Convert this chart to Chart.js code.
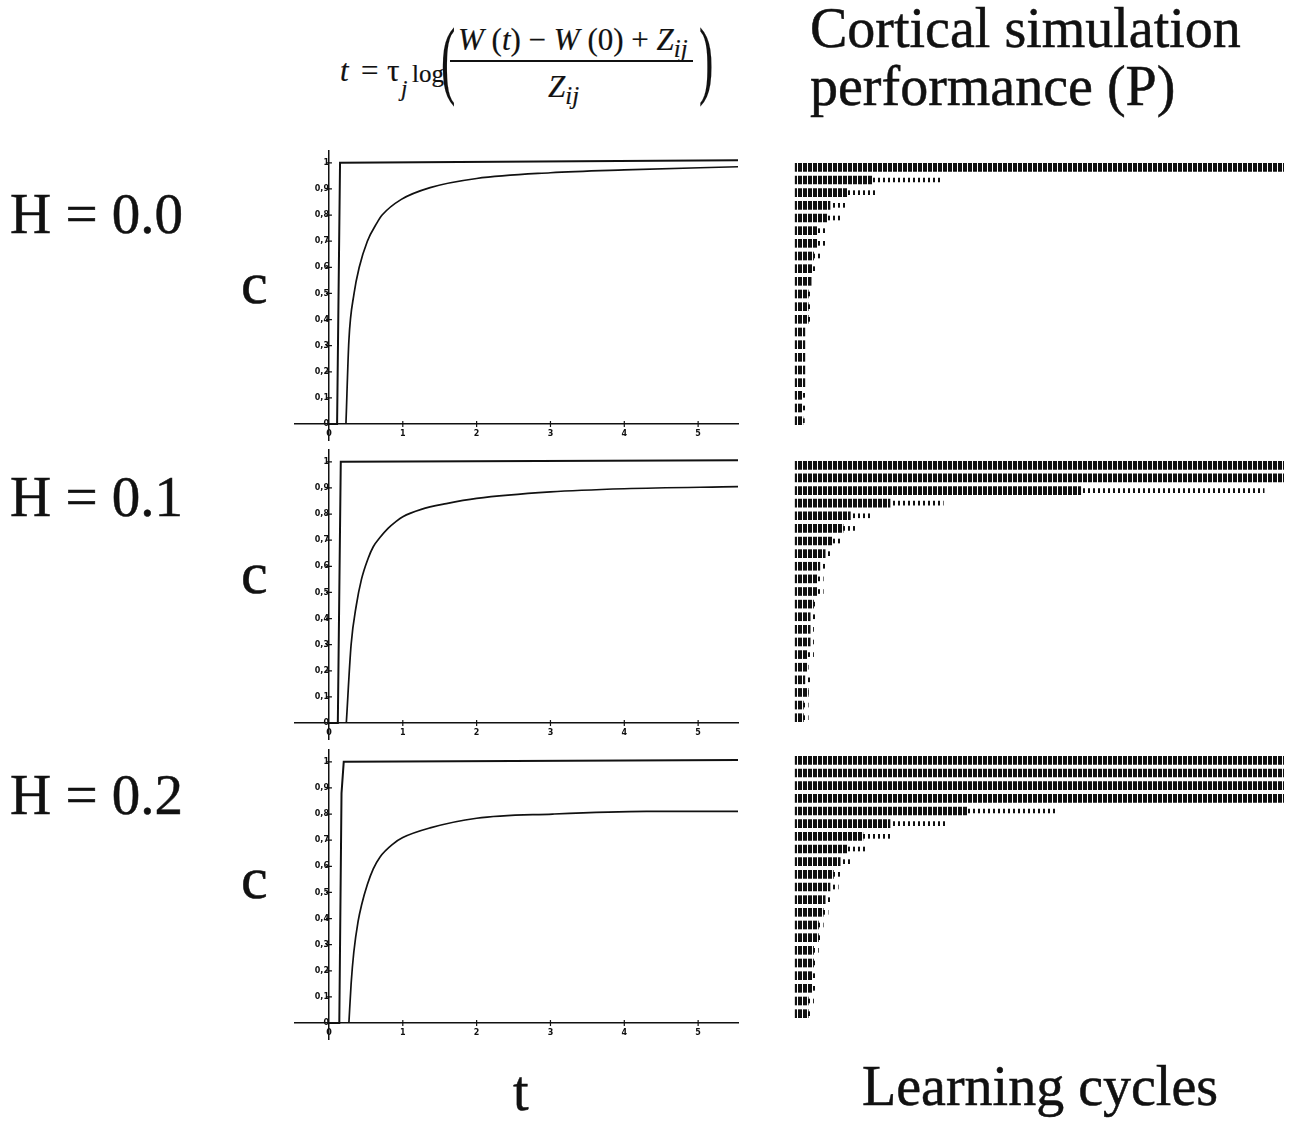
<!DOCTYPE html>
<html>
<head>
<meta charset="utf-8" />
<title>Cortical simulation performance</title>
<script src="https://cdn.jsdelivr.net/npm/chart.js@4.4.1/dist/chart.umd.min.js"></script>
<style>
  body { margin: 0; background: #fff; width: 1293px; height: 1121px; position: relative; overflow: hidden;
         font-family: "Liberation Serif", "Times New Roman", serif; color: #111; }
  .lbl { position: absolute; white-space: nowrap; line-height: 1; -webkit-text-stroke: 0.5px #111; }
  .big { font-size: 56px; }
  .eq { font-size: 31px; -webkit-text-stroke: 0.2px #111; }
  .eq sub { font-size: 0.8em; vertical-align: -0.3em; line-height: 0; }
  canvas { position: absolute; }
</style>
</head>
<body>
  <!-- formula -->
  <div class="lbl eq" style="left:340px; top:55px;"><i>t</i></div>
  <div class="lbl eq" style="left:361px; top:55px;">=</div>
  <div class="lbl eq" style="left:387px; top:55px;">τ</div>
  <div class="lbl eq" style="left:401px; top:77px; font-size:23px;"><i>j</i></div>
  <div class="lbl eq" style="left:412px; top:61px; font-size:25px;">log</div>
  <div class="lbl eq" style="left:441px; top:16px; font-size:86px; transform:scaleX(0.5); transform-origin:left top;">(</div>
  <div class="lbl eq" style="left:458px; top:24px;"><i>W</i> (<i>t</i>) − <i>W</i> (0) + <i>Z</i><sub><i>ij</i></sub></div>
  <div style="position:absolute; left:450px; top:60px; width:243px; height:1.5px; background:#111;"></div>
  <div class="lbl eq" style="left:548px; top:71px;"><i>Z</i><sub><i>ij</i></sub></div>
  <div class="lbl eq" style="left:699px; top:16px; font-size:86px; transform:scaleX(0.5); transform-origin:left top;">)</div>

  <div class="lbl big" style="left:810px; top:0px;">Cortical simulation</div>
  <div class="lbl big" style="left:810px; top:58px;">performance (P)</div>

  <div class="lbl" style="left:10px; top:185px; font-size:57px;">H = 0.0</div>
  <div class="lbl" style="left:10px; top:468px; font-size:57px;">H = 0.1</div>
  <div class="lbl" style="left:10px; top:766px; font-size:57px;">H = 0.2</div>
  <div class="lbl" style="left:241px; top:253px; font-size:60px;">c</div>
  <div class="lbl" style="left:241px; top:543px; font-size:60px;">c</div>
  <div class="lbl" style="left:241px; top:848px; font-size:60px;">c</div>
  <div class="lbl big" style="left:513px; top:1063px;">t</div>
  <div class="lbl big" style="left:862px; top:1058px;">Learning cycles</div>

  <canvas id="c0" width="455" height="320" style="left:289px; top:140px;"></canvas>
  <canvas id="c1" width="455" height="320" style="left:289px; top:439px;"></canvas>
  <canvas id="c2" width="455" height="320" style="left:289px; top:739px;"></canvas>
  <canvas id="p0" width="491" height="266" style="left:793px; top:161px;"></canvas>
  <canvas id="p1" width="491" height="265" style="left:793px; top:459px;"></canvas>
  <canvas id="p2" width="491" height="266" style="left:793px; top:754px;"></canvas>

<script>
// axis ticks of the c(t) plots
const tTicks = [0, 1, 2, 3, 4, 5];
const cTicks = [0, 0.1, 0.2, 0.3, 0.4, 0.5, 0.6, 0.7, 0.8, 0.9, 1];

// H = 0.0
const stepT_H0 = [0, 0.11, 0.15, 5.54];
const stepC_H0 = [0, 0, 1, 1.01];
const curveT_H0 = [0.23, 0.27, 0.34, 0.41, 0.52, 0.65, 0.72, 0.98, 1.37, 2.0, 3.0, 4.0, 5.54];
const curveC_H0 = [0, 0.32, 0.5, 0.6, 0.7, 0.77, 0.8, 0.86, 0.905, 0.94, 0.962, 0.973, 0.985];

// H = 0.1
const stepT_H1 = [0, 0.12, 0.16, 5.54];
const stepC_H1 = [0, 0, 1, 1.006];
const curveT_H1 = [0.235, 0.30, 0.37, 0.44, 0.53, 0.6, 0.69, 0.8, 0.91, 1.0, 1.25, 1.59, 2.0, 3.0, 4.0, 5.54];
const curveC_H1 = [0, 0.30, 0.45, 0.55, 0.63, 0.675, 0.71, 0.745, 0.772, 0.79, 0.818, 0.84, 0.86, 0.885, 0.897, 0.905];

// H = 0.2
const stepT_H2 = [0, 0.14, 0.17, 0.2, 5.54];
const stepC_H2 = [0, 0, 0.88, 1, 1.007];
const curveT_H2 = [0.27, 0.30, 0.336, 0.395, 0.44, 0.52, 0.6, 0.69, 0.87, 1.0, 1.37, 2.0, 3.03, 4.3, 5.54];
const curveC_H2 = [0, 0.15, 0.27, 0.39, 0.45, 0.53, 0.59, 0.635, 0.686, 0.71, 0.747, 0.784, 0.80, 0.81, 0.81];

// performance rows (top = P 1.0) and how far each row runs, in % of the cycle axis
const perfLevels = [1, 0.95, 0.9, 0.85, 0.8, 0.75, 0.7, 0.65, 0.6, 0.55, 0.5,
                    0.45, 0.4, 0.35, 0.3, 0.25, 0.2, 0.15, 0.1, 0.05, 0];
const rowStart = -1;
const denseH0 = [100, 15, 9.7, 6.2, 5.5, 3.5, 3.5, 2.8, 2.5, 2.3, 1.7, 1.7, 1.7, 1.0, 1.0, 1.0, 1.0, 1.0, 0.4, 0.4, 0.6];
const endH0   = [100, 29, 16, 9.3, 8.3, 5.2, 5.2, 4.1, 3.1, 2.6, 2.5, 2.5, 2.5, 1.4, 1.4, 1.4, 1.4, 1.4, 1.0, 1.0, 0.9];
const denseH1 = [100, 100, 58, 18.6, 10.4, 8.9, 6.6, 5.2, 4.1, 3.5, 3.5, 2.8, 2.1, 2.1, 2.1, 1.4, 1.4, 1.0, 1.7, 0.7, 0.7];
const endH1   = [100, 100, 95.9, 29.6, 14.5, 11.8, 8.7, 6.6, 5.6, 4.8, 4.8, 3.5, 3.5, 2.8, 2.8, 2.8, 1.7, 2.4, 1.7, 1.7, 1.7];
const denseH2 = [100, 100, 100, 100, 34.5, 18.6, 13, 9.7, 8.3, 6.9, 6.2, 5.2, 4.8, 3.8, 3.8, 2.8, 2.8, 2.5, 2.5, 1.7, 1.7];
const endH2   = [100, 100, 100, 100, 53, 30.4, 18.6, 13.8, 10.7, 8.7, 7.9, 6.6, 5.8, 4.8, 4.4, 3.8, 3.6, 3.5, 3.5, 2.8, 2.5];

const ink = '#111';
const tickFont = { family: 'DejaVu Sans', size: 8, weight: 'bold' };

// small "+" marks where the ticks cross the axes
const crossTicks = {
  id: 'crossTicks',
  afterDraw(chart) {
    const { ctx, scales: { x, y } } = chart;
    const x0 = x.getPixelForValue(0), y0 = y.getPixelForValue(0);
    ctx.save();
    ctx.strokeStyle = ink;
    ctx.lineWidth = 1.2;
    ctx.beginPath();
    tTicks.forEach(v => {
      if (v === 0) return;
      const px = x.getPixelForValue(v);
      ctx.moveTo(px, y0 - 3); ctx.lineTo(px, y0 + 3);
    });
    cTicks.forEach(v => {
      if (v === 0) return;
      const py = y.getPixelForValue(v);
      ctx.moveTo(x0 - 3, py); ctx.lineTo(x0 + 3, py);
    });
    ctx.stroke();
    ctx.restore();
  }
};

function makeCurveChart(id, stepT, stepC, curveT, curveC) {
  new Chart(document.getElementById(id), {
    type: 'line',
    data: {
      datasets: [
        { data: stepT.map((t, i) => ({ x: t, y: stepC[i] })), borderColor: ink, borderWidth: 2, pointRadius: 0, tension: 0 },
        { data: curveT.map((t, i) => ({ x: t, y: curveC[i] })), borderColor: ink, borderWidth: 1.7, pointRadius: 0, cubicInterpolationMode: 'monotone' }
      ]
    },
    options: {
      responsive: false,
      animation: false,
      events: [],
      layout: { padding: { top: 10, bottom: 20, left: 6, right: 6 } },
      plugins: { legend: { display: false }, tooltip: { enabled: false } },
      scales: {
        x: {
          type: 'linear', min: -0.46, max: 5.54, position: { y: 0 },
          afterBuildTicks: s => { s.ticks = tTicks.map(v => ({ value: v })); },
          grid: { display: false, drawTicks: false },
          border: { display: true, color: ink, width: 1.5 },
          ticks: { font: tickFont, color: ink, padding: 5, maxRotation: 0 }
        },
        y: {
          type: 'linear', min: -0.061, max: 1.046, position: { x: 0 },
          afterBuildTicks: s => { s.ticks = cTicks.map(v => ({ value: v })); },
          grid: { display: false, drawTicks: false },
          border: { display: true, color: ink, width: 1.5 },
          ticks: {
            font: tickFont, color: ink, padding: 6,
            callback: v => v === 0 ? '0' : v === 1 ? '1' : v.toFixed(1).replace('.', ',')
          }
        }
      }
    },
    plugins: [crossTicks]
  });
}

function stripes(canvas, period, width) {
  const c = document.createElement('canvas');
  c.width = period; c.height = 1;
  const g = c.getContext('2d');
  g.fillStyle = ink;
  g.fillRect(0, 0, width, 1);
  return canvas.getContext('2d').createPattern(c, 'repeat');
}

function makeDotChart(id, dense, end) {
  const canvas = document.getElementById(id);
  new Chart(canvas, {
    type: 'bar',
    data: {
      labels: perfLevels.map(String),
      datasets: [
        { data: dense.map(d => [rowStart, d]), backgroundColor: stripes(canvas, 5, 4), barThickness: 8, grouped: false, borderWidth: 0 },
        { data: dense.map((d, i) => [d, end[i]]), backgroundColor: stripes(canvas, 5, 2), barThickness: 4, grouped: false, borderWidth: 0 }
      ]
    },
    options: {
      indexAxis: 'y',
      responsive: false,
      animation: false,
      events: [],
      layout: { padding: 0 },
      plugins: { legend: { display: false }, tooltip: { enabled: false } },
      scales: {
        x: { type: 'linear', min: -1.45, max: 100, display: false },
        y: { display: false }
      }
    }
  });
}

makeCurveChart('c0', stepT_H0, stepC_H0, curveT_H0, curveC_H0);
makeCurveChart('c1', stepT_H1, stepC_H1, curveT_H1, curveC_H1);
makeCurveChart('c2', stepT_H2, stepC_H2, curveT_H2, curveC_H2);
makeDotChart('p0', denseH0, endH0);
makeDotChart('p1', denseH1, endH1);
makeDotChart('p2', denseH2, endH2);
</script>
</body>
</html>
